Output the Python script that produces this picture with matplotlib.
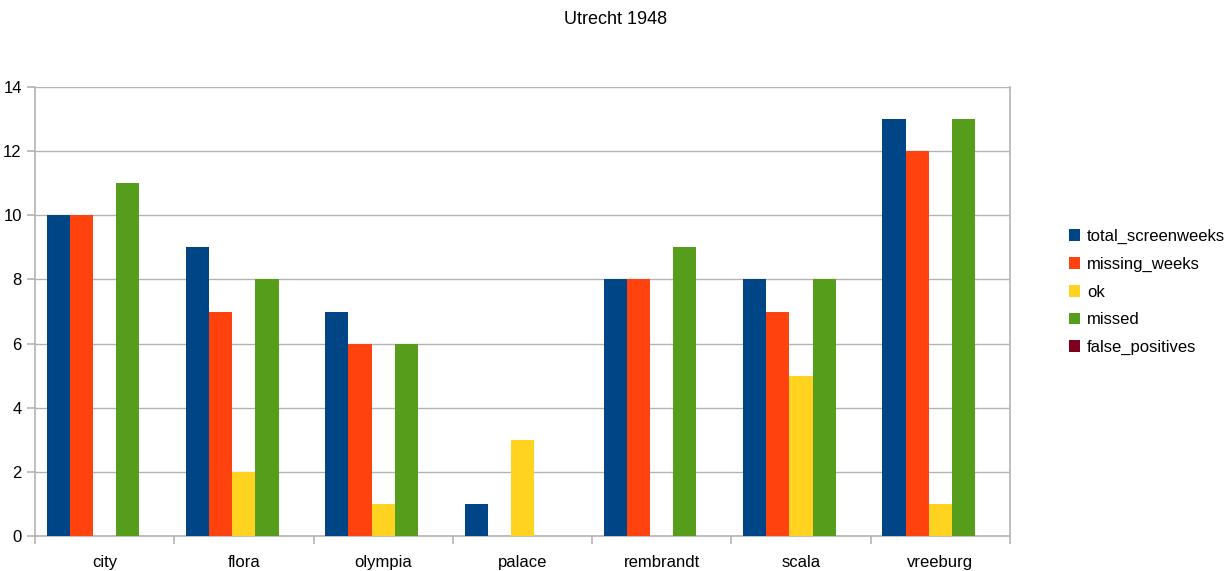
import matplotlib
matplotlib.use("Agg")
import matplotlib.pyplot as plt
import numpy as np

plt.rcParams['font.family'] = ['Liberation Sans', 'DejaVu Sans']

cinemas = ['city', 'flora', 'olympia', 'palace', 'rembrandt', 'scala', 'vreeburg']
total_screenweeks = [10, 9, 7, 1, 8, 8, 13]
missing_weeks = [10, 7, 6, 0, 8, 7, 12]
ok = [0, 2, 1, 3, 0, 5, 1]
missed = [11, 8, 6, 0, 9, 8, 13]
false_positives = [0, 0, 0, 0, 0, 0, 0]

series = [
    ('total_screenweeks', total_screenweeks, '#004586'),
    ('missing_weeks', missing_weeks, '#ff420e'),
    ('ok', ok, '#ffd320'),
    ('missed', missed, '#579d1c'),
    ('false_positives', false_positives, '#7e0021'),
]

fig = plt.figure(figsize=(12.31, 5.71), dpi=100)
ax = fig.add_axes([0.0284, 0.0613, 0.792, 0.7863])

x = np.arange(len(cinemas))
w = 0.166
for i, (name, vals, col) in enumerate(series):
    ax.bar(x + (i - 2) * w, vals, w, color=col, label=name, zorder=3)

ax.set_xlim(-0.5, len(cinemas) - 0.5)
ax.set_ylim(0, 14)
ax.set_yticks(range(0, 15, 2))
ax.yaxis.grid(True, color='#b3b3b3', linewidth=1, zorder=0)

ax.set_xticks(x)
ax.set_xticklabels(cinemas, fontsize=12)
ax.tick_params(axis='x', length=0, pad=14)
ax.set_xticks(np.arange(-0.5, len(cinemas)), minor=True)
ax.tick_params(axis='x', which='minor', length=6, color='#b3b3b3', width=1.2)
ax.tick_params(axis='y', labelsize=12, length=6, color='#b3b3b3', width=1.2)

for s in ax.spines.values():
    s.set_color('#b3b3b3')
    s.set_linewidth(1.2)
ax.spines['top'].set_visible(False)

fig.suptitle('Utrecht 1948', fontsize=13, y=0.981)

ax.legend(loc='center left', bbox_to_anchor=(1.045, 0.543), frameon=False,
          fontsize=12, handlelength=0.7, handleheight=0.7, handletextpad=0.4,
          labelspacing=0.76)

fig.savefig('out.png', dpi=100)
